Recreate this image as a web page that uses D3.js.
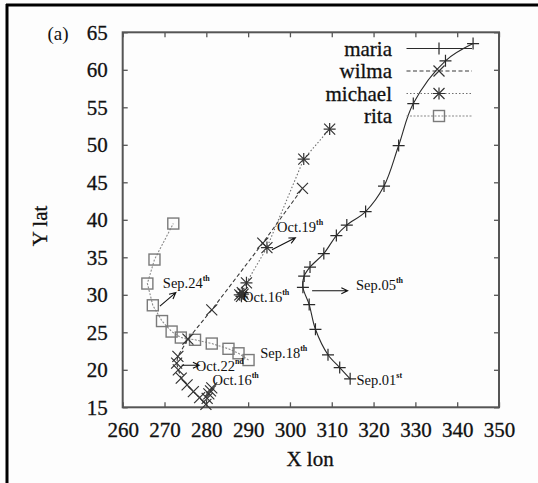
<!DOCTYPE html>
<html><head><meta charset="utf-8">
<script src="https://cdn.jsdelivr.net/npm/d3@7"></script>
<style>body{margin:0;background:#fff}svg{display:block}</style>
</head><body><svg id="c" width="538" height="483"></svg>
<script>
// ---- data (lon E, lat N) ----
const xTickValues = [260,270,280,290,300,310,320,330,340,350];
const yTickValues = [15,20,25,30,35,40,45,50,55,60,65];
const seriesNames = ["maria","wilma","michael","rita"];
const maria = [[314.4,18.8],[311.9,20.3],[309.1,22.0],[306.1,25.4],[304.6,28.7],[303.1,31.0],[303.4,32.5],[304.8,33.7],[308.1,35.5],[311.1,37.9],[313.6,39.3],[318.1,41.1],[322.5,44.5],[326.0,49.9],[329.5,55.5],[337.2,61.2],[343.8,63.5]];
const wilma = [[281.3,17.6],[281.0,17.2],[280.6,16.8],[280.2,16.2],[279.9,15.4],[278.4,16.3],[276.9,17.1],[275.4,18.0],[274.0,18.9],[273.3,20.0],[272.9,20.9],[273.2,21.8],[275.6,24.1],[281.3,28.0],[293.5,36.9],[303.0,44.2]];
const michael = [[288.0,30.0],[288.4,29.8],[288.8,30.1],[288.6,30.3],[289.6,31.6],[294.5,36.3],[303.3,48.1],[309.5,52.1]];
const rita = [[290.1,21.3],[287.7,22.2],[285.3,22.8],[281.3,23.5],[277.3,24.0],[273.9,24.3],[271.7,25.1],[269.4,26.5],[267.2,28.6],[265.9,31.5],[267.6,34.7],[272.1,39.5]];
// annotations: [text, superscript, lon, lat, arrowFrom(lon,lat), arrowTo(lon,lat)]
const notes = [
  ["Sep.05","th",315.8,31.3,[305.3,30.55],[313.8,30.55]],
  ["Sep.01","st",315.9,18.7,null,null],
  ["Oct.19","th",296.9,39.0,[295.7,36.0],[301.3,37.6]],
  ["Oct.16","th",288.8,29.75,null,null],
  ["Sep.24","th",269.6,31.6,[268.9,28.5],[272.7,30.3]],
  ["Sep.18","th",292.9,22.2,null,null],
  ["Oct.22","nd",277.5,20.55,[274.1,20.6],[278.3,20.6]],
  ["Oct.16","th",281.5,18.6,null,null]
];

const FONT = "'Liberation Serif','Times New Roman',Times,'DejaVu Serif','Noto Serif',serif";
const svg = d3.select("#c");
const L=122.7,R=499,T=32.3,B=407.3;
const x = d3.scaleLinear().domain([260,350]).range([L,R]);
const y = d3.scaleLinear().domain([15,65]).range([B,T]);

// outer frame (top & left only visible)
svg.append("rect").attr("x",0).attr("y",0).attr("width",538).attr("height",483).attr("fill","#fdfdfd");
svg.append("line").attr("x1",6).attr("x2",538).attr("y1",5).attr("y2",5).attr("stroke","#000").attr("stroke-width",3);
svg.append("line").attr("x1",7).attr("x2",7).attr("y1",4).attr("y2",483).attr("stroke","#000").attr("stroke-width",3);

// axes
const axColor="#555";
function styleAxis(g){g.select(".domain").remove();g.selectAll("line").attr("stroke",axColor).attr("stroke-width",1.3);g.selectAll("text").attr("font-size",21).attr("fill","#111");}
const gx=svg.append("g").attr("transform",`translate(0,${B})`).call(d3.axisBottom(x).tickValues(xTickValues).tickSizeInner(-5).tickSizeOuter(0).tickPadding(8)).call(styleAxis);
svg.append("g").attr("transform",`translate(0,${T})`).call(d3.axisTop(x).tickValues(xTickValues).tickSizeInner(-5).tickSizeOuter(0).tickFormat("")).call(styleAxis);
const gy=svg.append("g").attr("transform",`translate(${L},0)`).call(d3.axisLeft(y).tickValues(yTickValues).tickSizeInner(-5).tickSizeOuter(0).tickPadding(15)).call(styleAxis);
svg.append("g").attr("transform",`translate(${R},0)`).call(d3.axisRight(y).tickValues(yTickValues).tickSizeInner(-5).tickSizeOuter(0).tickFormat("")).call(styleAxis);
gx.selectAll(".tick text").attr("dy",null).attr("dominant-baseline","central").attr("y",23);
gy.selectAll(".tick text").attr("dy",null).attr("dominant-baseline","central");
svg.append("rect").attr("x",L).attr("y",T).attr("width",R-L).attr("height",B-T).attr("fill","none").attr("stroke",axColor).attr("stroke-width",2);

// axis titles
const big=[];
big.push(svg.append("text").attr("x",310).attr("y",459).attr("text-anchor","middle").attr("dominant-baseline","central").attr("font-size",21).attr("fill","#111").text("X lon"));
big.push(svg.append("text").attr("transform","translate(40,226) rotate(-90)").attr("text-anchor","middle").attr("dominant-baseline","central").attr("font-size",21).attr("fill","#111").text("Y lat"));
svg.append("text").attr("x",58).attr("y",33).attr("text-anchor","middle").attr("dominant-baseline","central").attr("font-size",19).attr("fill","#111").text("(a)");

// marker painters
function plus(g,cx,cy,c){const s=6;g.append("path").attr("d",`M${cx-s},${cy}H${cx+s}M${cx},${cy-s}V${cy+s}`).attr("stroke",c).attr("stroke-width",1.2).attr("fill","none");}
function cross(g,cx,cy,c){const s=5.5;g.append("path").attr("d",`M${cx-s},${cy-s}L${cx+s},${cy+s}M${cx-s},${cy+s}L${cx+s},${cy-s}`).attr("stroke",c).attr("stroke-width",1.2).attr("fill","none");}
function star(g,cx,cy,c){plus(g,cx,cy,c);cross(g,cx,cy,c);}
function square(g,cx,cy,c){const s=5.5;g.append("rect").attr("x",cx-s).attr("y",cy-s).attr("width",2*s).attr("height",2*s).attr("stroke",c).attr("stroke-width",1.4).attr("fill","none");}

const styles = {
  maria:{data:maria,color:"#2a2a2a",dash:null,mark:plus,mcol:"#2a2a2a",curve:d3.curveCatmullRom.alpha(0.5)},
  wilma:{data:wilma,color:"#3a3a3a",dash:"4,2.5",mark:cross,mcol:"#333",curve:d3.curveLinear},
  michael:{data:michael,color:"#707070",dash:"1.5,2",mark:star,mcol:"#333",curve:d3.curveLinear},
  rita:{data:rita,color:"#8a8a8a",dash:"2,1.5",mark:square,mcol:"#7a7a7a",curve:d3.curveLinear}
};
const plot = svg.append("g");
seriesNames.slice().reverse().forEach(n=>{
  const s=styles[n];
  plot.append("path").datum(s.data).attr("fill","none").attr("stroke",s.color).attr("stroke-width",1.1)
    .attr("stroke-dasharray",s.dash).attr("d",d3.line().x(d=>x(d[0])).y(d=>y(d[1])).curve(s.curve));
  const mg=plot.append("g");
  s.data.forEach(d=>s.mark(mg,x(d[0]),y(d[1]),s.mcol));
});

// legend
const legY=[48.5,71,93.5,116];
seriesNames.forEach((n,i)=>{
  const s=styles[n];
  big.push(svg.append("text").attr("x",392).attr("y",legY[i]).attr("text-anchor","end").attr("dominant-baseline","central").attr("font-size",21).attr("fill","#111").text(n));
  svg.append("line").attr("x1",406.5).attr("x2",472).attr("y1",legY[i]).attr("y2",legY[i]).attr("stroke",s.color).attr("stroke-width",1.1).attr("stroke-dasharray",s.dash);
  s.mark(svg,439,legY[i],s.mcol);
});

// annotations
function arrow(p0,p1){
  const x0=x(p0[0]),y0=y(p0[1]),x1=x(p1[0]),y1=y(p1[1]);
  const a=Math.atan2(y1-y0,x1-x0),h=7,w=0.45;
  svg.append("path").attr("d",`M${x0},${y0}L${x1},${y1}M${x1-h*Math.cos(a-w)},${y1-h*Math.sin(a-w)}L${x1},${y1}L${x1-h*Math.cos(a+w)},${y1-h*Math.sin(a+w)}`)
    .attr("stroke","#111").attr("stroke-width",1.1).attr("fill","none");
}
notes.forEach(n=>{
  if(n[4]) arrow(n[4],n[5]);
  const t=svg.append("text").attr("x",x(n[2])).attr("y",y(n[3])).attr("dominant-baseline","central").attr("font-size",14.5).attr("fill","#111");
  t.append("tspan").text(n[0]);
  t.append("tspan").attr("dy",-5).attr("font-size",8).attr("font-weight","bold").text(n[1]);
});
svg.selectAll("g").attr("font-family",null);
svg.selectAll("text").style("font-family",FONT);
gx.selectAll("text").attr("stroke","#111").attr("stroke-width",0.3);
gy.selectAll("text").attr("stroke","#111").attr("stroke-width",0.3);
big.forEach(t=>t.attr("stroke","#111").attr("stroke-width",0.3));
</script></body></html>
